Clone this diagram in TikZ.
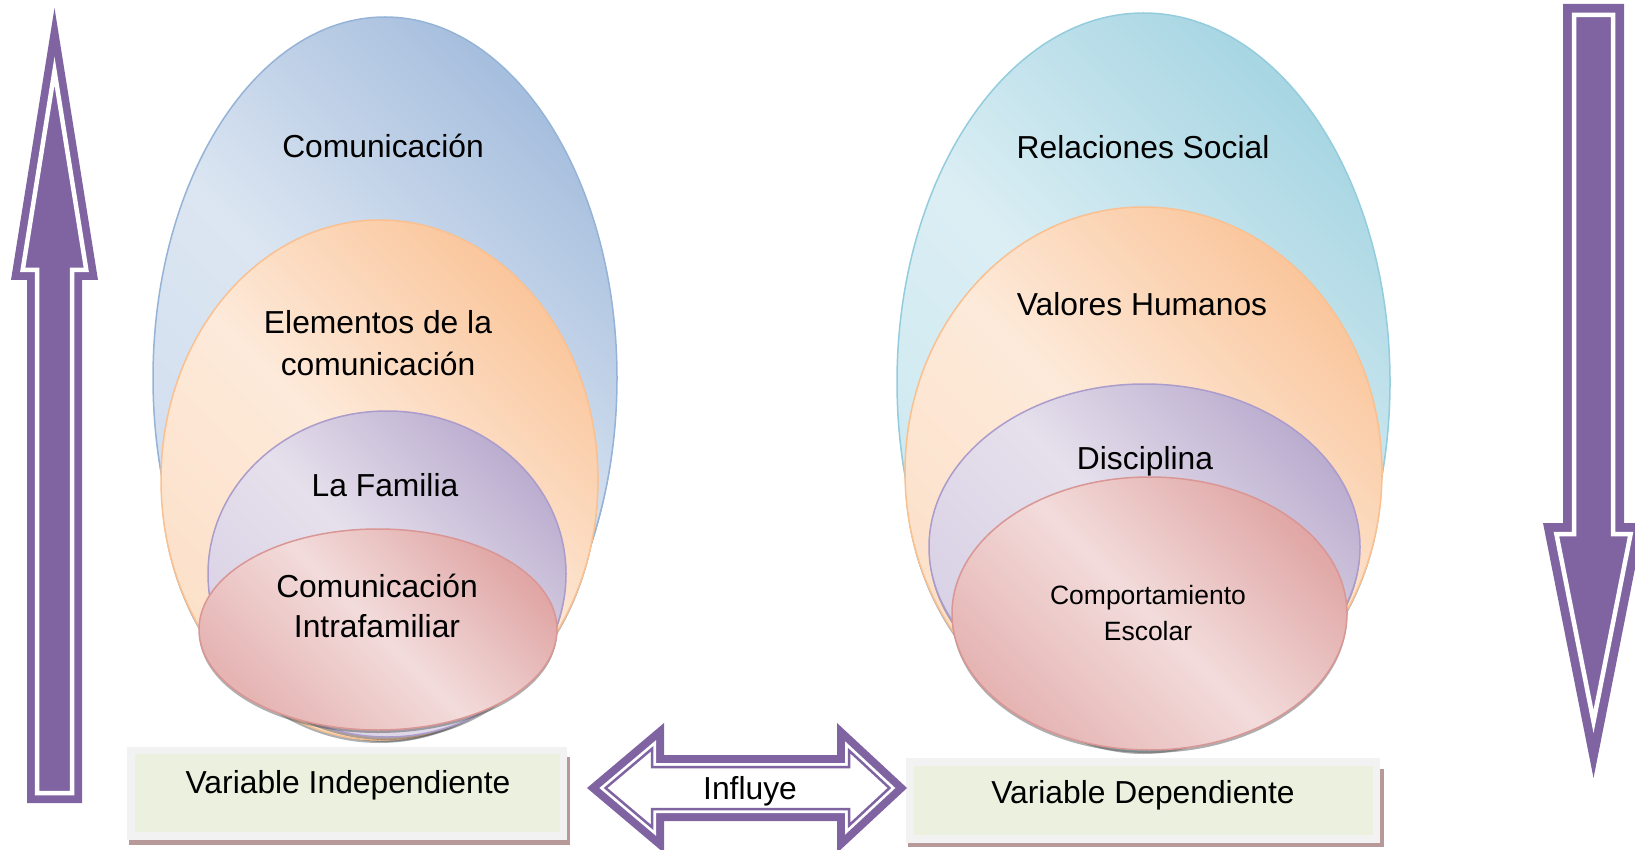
\documentclass[tikz,border=0pt]{standalone}
\usepackage{fontspec}
\setmainfont{Liberation Sans}
\usetikzlibrary{shapes.geometric,shadows}

\definecolor{morado}{HTML}{8064A2}
\definecolor{bordeazul}{HTML}{95B3D7}
\definecolor{azulclaro}{HTML}{DCE6F2}
\definecolor{azulmedio}{HTML}{D0DDEE}
\definecolor{azuloscuro}{HTML}{A7BFDE}
\definecolor{bordenaranja}{HTML}{FAC090}
\definecolor{naranjaclaro}{HTML}{FDEADA}
\definecolor{naranjamedio}{HTML}{FCE0C9}
\definecolor{naranjaoscuro}{HTML}{FAC69C}
\definecolor{bordelila}{HTML}{AB9CCB}
\definecolor{lilaclaro}{HTML}{E6E0EC}
\definecolor{lilamedio}{HTML}{D9D1E5}
\definecolor{lilaoscuro}{HTML}{BBADCF}
\definecolor{borderosa}{HTML}{D99694}
\definecolor{rosaclaro}{HTML}{F2DCDB}
\definecolor{rosamedio}{HTML}{E5B4B3}
\definecolor{rosaoscuro}{HTML}{E0A7A6}
\definecolor{bordecian}{HTML}{93CDDD}
\definecolor{cianclaro}{HTML}{DBEEF4}
\definecolor{cianmedio}{HTML}{CCE8F0}
\definecolor{cianoscuro}{HTML}{A8D6E3}
\definecolor{verdecaja}{HTML}{EBF1DE}
\definecolor{grisborde}{HTML}{F2F2F2}
\definecolor{sombracaja}{HTML}{B89999}

\newcommand{\letra}{\fontsize{31.8}{38}\selectfont}
\newcommand{\letrachica}{\fontsize{26.5}{32}\selectfont}

\begin{document}
\begin{tikzpicture}[x=1pt, y=-1pt,
    capa/.style={ellipse, inner sep=0pt, line width=1.5pt,
      drop shadow={shadow xshift=0pt, shadow yshift=-3pt, opacity=.45, fill=black!70}},
    azul/.style={capa, draw=bordeazul, left color=azulmedio, right color=azuloscuro, middle color=azulclaro, shading angle=135},
    naranja/.style={capa, draw=bordenaranja, left color=naranjamedio, right color=naranjaoscuro, middle color=naranjaclaro, shading angle=135},
    lila/.style={capa, draw=bordelila, left color=lilamedio, right color=lilaoscuro, middle color=lilaclaro, shading angle=135},
    rosa/.style={capa, draw=borderosa, left color=rosamedio, right color=rosaoscuro, middle color=rosaclaro, shading angle=135},
    cian/.style={capa, draw=bordecian, left color=cianmedio, right color=cianoscuro, middle color=cianclaro, shading angle=135},
    rotulo/.style={font=\letra, anchor=base, inner sep=0pt},
    caja/.style={rectangle, inner sep=0pt, fill=verdecaja, draw=grisborde, line width=7.5pt,
      general shadow={shadow xshift=2.5pt, shadow yshift=-7.5pt, shadow scale=1.02, fill=sombracaja}}]
    \useasboundingbox (0,0) rectangle (1635,850);
    \clip (0,0) rectangle (1635,850);

    % variable independiente
    \node[azul, minimum width=464pt, minimum height=722pt] (comu) at (385,378) {};
    \node[naranja, minimum width=437pt, minimum height=520pt] (elem) at (379.5,480) {};
    \node[lila, minimum width=358pt, minimum height=326pt] (fami) at (387,574) {};
    \node[rosa, minimum width=358pt, minimum height=201pt] (intra) at (378,629.5) {};
    \node[rotulo] (tcomu) at (383,158) {Comunicación};
    \node[rotulo] (telem1) at (378,333) {Elementos de la};
    \node[rotulo] (telem2) at (378,375) {comunicación};
    \node[rotulo] (tfami) at (385,496) {La Familia};
    \node[rotulo] (tintra1) at (377,597) {Comunicación};
    \node[rotulo] (tintra2) at (377,637) {Intrafamiliar};

    % variable dependiente
    \node[cian, minimum width=493pt, minimum height=738pt] (rela) at (1143.5,382) {};
    \node[naranja, minimum width=477pt, minimum height=530pt] (valo) at (1143.5,472) {};
    \node[lila, minimum width=431pt, minimum height=326pt] (disc) at (1144.5,547) {};
    \node[rosa, minimum width=395pt, minimum height=273pt] (comp) at (1149.5,613.5) {};
    \node[rotulo] (trela) at (1143,159) {Relaciones Social};
    \node[rotulo] (tvalo) at (1142,316) {Valores Humanos};
    \node[rotulo] (tdisc) at (1145,469) {Disciplina};
    \node[rotulo, font=\letrachica] (tcomp1) at (1148,604) {Comportamiento};
    \node[rotulo, font=\letrachica] (tcomp2) at (1148,640) {Escolar};

    \node[caja, minimum width=432.5pt, minimum height=85.5pt] (vind) at (347.25,793.25) {};
    \node[rotulo] (tvind) at (348,793) {Variable Independiente};
    \node[caja, minimum width=466.5pt, minimum height=77pt] (vdep) at (1143.25,800.5) {};
    \node[rotulo] (tvdep) at (1143,803) {Variable Dependiente};

    % flechas
    \fill[morado] (54.5,8) -- (98,280) -- (82,280) -- (82,803) -- (27,803) -- (27,280) -- (11,280) -- cycle;
    \draw[white, line width=4.5pt] (54.5,71) -- (86.3,270) -- (72,270) -- (72,793) -- (37,793) -- (37,270) -- (22.7,270) -- cycle;

    \fill[morado] (1563,4) -- (1624,4) -- (1624,523) -- (1644,523) -- (1593.5,778) -- (1543,523) -- (1563,523) -- cycle;
    \draw[white, line width=4.5pt] (1574,15) -- (1613,15) -- (1613,534) -- (1630.6,534) -- (1593.5,721.5) -- (1556.4,534) -- (1574,534) -- cycle;

    \fill[morado] (587,788) -- (664,723) -- (664,755) -- (837,755) -- (837,723) -- (907,788)
                  -- (837,853) -- (837,821) -- (664,821) -- (664,853) -- cycle;
    \fill[white] (599.4,788) -- (656,740.2) -- (656,763) -- (845,763) -- (845,741.3) -- (895.3,788)
                 -- (845,834.7) -- (845,813) -- (656,813) -- (656,835.8) -- cycle;
    \draw[morado, line width=2.5pt] (605.6,788) -- (652,748.8) -- (652,767) -- (849,767) -- (849,750.5) -- (889.4,788)
                 -- (849,825.5) -- (849,809) -- (652,809) -- (652,827.2) -- cycle;
    \node[rotulo] (tinfl) at (750,799) {Influye};
\end{tikzpicture}
\end{document}
